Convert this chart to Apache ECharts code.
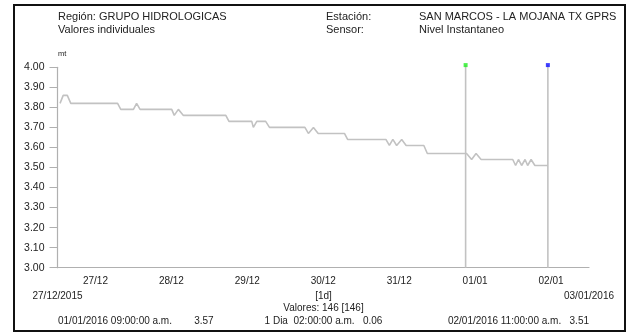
<!DOCTYPE html>
<html><head><meta charset="utf-8">
<script src="https://cdn.jsdelivr.net/npm/echarts@6/dist/echarts.min.js"></script>
<style>html,body{margin:0;padding:0;background:#fff}#c{width:629px;height:335px}</style>
</head><body><div id="c"></div>
<script>
// ---- data ----
const dayLabels = ['27/12','28/12','29/12','30/12','31/12','01/01','02/01'];
const axisStart = '2015-12-27 00:00';
const axisEnd = '2016-01-03 00:00';
const times = [
  '2015-12-27 00:48','2015-12-27 01:48','2015-12-27 03:06','2015-12-27 04:12',
  '2015-12-27 19:00','2015-12-27 20:00','2015-12-28 00:00','2015-12-28 01:00',
  '2015-12-28 02:06','2015-12-28 12:06','2015-12-28 12:54','2015-12-28 14:12',
  '2015-12-28 15:48','2015-12-29 05:12','2015-12-29 06:12','2015-12-29 13:24',
  '2015-12-29 13:54','2015-12-29 15:00','2015-12-29 17:48','2015-12-29 19:00',
  '2015-12-30 06:12','2015-12-30 07:18','2015-12-30 08:54','2015-12-30 10:24',
  '2015-12-30 18:42','2015-12-30 19:42','2015-12-31 07:48','2015-12-31 08:54',
  '2015-12-31 10:00','2015-12-31 11:12','2015-12-31 12:48','2015-12-31 14:12',
  '2015-12-31 19:48','2015-12-31 20:54','2016-01-01 09:18','2016-01-01 10:54',
  '2016-01-01 12:18','2016-01-01 13:54','2016-01-01 23:54','2016-01-02 00:48',
  '2016-01-02 01:42','2016-01-02 02:42','2016-01-02 03:48','2016-01-02 04:36',
  '2016-01-02 05:42','2016-01-02 06:54','2016-01-02 11:00'
];
const levels = [
  3.82,3.86,3.86,3.82,
  3.82,3.79,3.79,3.82,
  3.79,3.79,3.76,3.79,
  3.76,3.76,3.73,3.73,
  3.70,3.73,3.73,3.70,
  3.70,3.67,3.70,3.67,
  3.67,3.64,3.64,3.61,
  3.64,3.61,3.64,3.61,
  3.61,3.57,3.57,3.54,
  3.57,3.54,3.54,3.51,
  3.54,3.51,3.54,3.51,
  3.54,3.51,3.51
];
const cursorTimes = ['2016-01-01 09:00','2016-01-02 11:00'];
const cursorValues = [3.57, 3.51];
const cursorColors = ['#22ee22','#1010ff'];
const cursorTop = 4.011;
const yMin = 3.0, yMax = 4.0, yStep = 0.1;
const headerLeft = ['Región: GRUPO HIDROLOGICAS','Valores individuales'];
const headerMid = ['Estación:','Sensor:'];
const headerRight = ['SAN MARCOS - LA MOJANA TX GPRS','Nivel Instantaneo'];
const unitLabel = 'mt';
const rangeStartLabel = '27/12/2015';
const rangeEndLabel = '03/01/2016';
const intervalLabel = '[1d]';
const countLabel = 'Valores: 146 [146]';
const footerLeft = '01/01/2016 09:00:00 a.m.        3.57';
const footerMid = '1 Dia  02:00:00 a.m.   0.06';
const footerRight = '02/01/2016 11:00:00 a.m.   3.51';

// ---- chart ----
const FONT = '"Liberation Sans", Arial, sans-serif';
const TXT = '#222';
const AX = '#b0b0b0';
const chart = echarts.init(document.getElementById('c'));
const G = {left: 57.5, top: 67.3, width: 531.5, height: 200.4};
function txt(x, y, s, align, size) {
  return {type:'text', x:x, y:y, style:{text:s, fill:TXT, font: (size||11)+'px '+FONT, align:align||'left', verticalAlign:'middle'}};
}
const series = [{
  type:'line', xAxisIndex:1, yAxisIndex:0, showSymbol:false,
  data: times.map((t,i)=>[t, levels[i]]),
  lineStyle:{color:'#c2c2c2', width:1.6}, animation:false, z:3
}];
cursorTimes.forEach((t,i)=>{
  series.push({type:'line', xAxisIndex:1, showSymbol:false, clip:false, animation:false,
    data:[[t, yMin],[t, cursorTop]], lineStyle:{color:'#c2c2c2', width:1.6}, z:2});
  series.push({type:'scatter', xAxisIndex:1, clip:false, animation:false, symbol:'rect', symbolSize:4,
    data:[[t, cursorTop]], itemStyle:{color:cursorColors[i]}, z:4});
});
chart.setOption({
  animation:false,
  backgroundColor:'#fff',
  grid:{left:G.left, top:G.top, width:G.width, height:G.height, containLabel:false},
  xAxis:[{
    type:'category', data:dayLabels, boundaryGap:true,
    axisLine:{lineStyle:{color:AX, width:1.2}},
    axisTick:{alignWithLabel:false, length:4, lineStyle:{color:AX}},
    axisLabel:{color:TXT, fontSize:10, fontFamily:FONT, margin:9},
    splitLine:{show:false}
  },{
    type:'time', min:axisStart, max:axisEnd, show:false
  }],
  yAxis:[{
    type:'value', min:yMin, max:yMax, interval:yStep,
    axisLine:{show:true, lineStyle:{color:AX, width:1.2}},
    axisTick:{show:true, length:8, lineStyle:{color:AX}},
    axisLabel:{color:TXT, fontSize:10.5, fontFamily:FONT, margin:13, formatter:v=>v.toFixed(2)},
    splitLine:{show:false}
  }],
  series:series,
  graphic:[
    {type:'rect', shape:{x:14, y:5, width:611, height:326}, style:{fill:null, stroke:'#111', lineWidth:2}},
    txt(58,17,headerLeft[0]), txt(58,30,headerLeft[1]),
    txt(326,17,headerMid[0]), txt(326,30,headerMid[1]),
    txt(419,17,headerRight[0]), txt(419,30,headerRight[1]),
    txt(58,54,unitLabel,'left',7.5),
    txt(57.5,296,rangeStartLabel,'center',10),
    txt(589,296,rangeEndLabel,'center',10),
    txt(323.5,296,intervalLabel,'center',10),
    txt(323.5,308.5,countLabel,'center',10),
    txt(58,321,footerLeft,'left',10),
    txt(323.5,321,footerMid,'center',10),
    txt(589,321,footerRight,'right',10)
  ]
});
</script></body></html>
